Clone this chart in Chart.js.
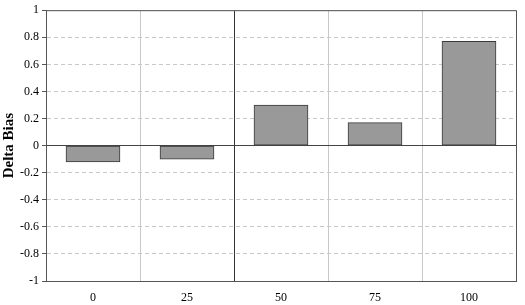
<!DOCTYPE html>
<html lang="en">
<head>
<meta charset="UTF-8">
<title>Delta Bias</title>
<script src="https://cdn.jsdelivr.net/npm/chart.js"></script>
<style>
    html, body { margin: 0; padding: 0; background: #fff; }
    #wrap { width: 525px; height: 305px; }
</style>
</head>
<body>
<div id="wrap"><canvas id="chart" width="525" height="305"></canvas></div>
<script>
    const categories = ['0', '25', '50', '75', '100'];
    const deltaBias = [-0.12, -0.10, 0.30, 0.17, 0.77];
    const yTicks = [-1, -0.8, -0.6, -0.4, -0.2, 0, 0.2, 0.4, 0.6, 0.8, 1];

    const serif = '"Liberation Serif", "Times New Roman", serif';

    // frame on top and right like the original plot box
    const frame = {
        id: 'frame',
        afterDatasetsDraw(chart) {
            const { ctx, chartArea: a } = chart;
            ctx.save();
            ctx.strokeStyle = '#555';
            ctx.lineWidth = 1;
            ctx.beginPath();
            ctx.moveTo(a.left, a.top + 0.5);
            ctx.lineTo(a.right + 0.5, a.top + 0.5);
            ctx.lineTo(a.right + 0.5, a.bottom);
            ctx.stroke();
            ctx.restore();
        }
    };

    new Chart(document.getElementById('chart'), {
        type: 'bar',
        data: {
            labels: categories,
            datasets: [{
                data: deltaBias,
                backgroundColor: '#999999',
                borderColor: '#3a3a3a',
                borderWidth: 1,
                borderSkipped: false,
                barThickness: 54
            }]
        },
        options: {
            responsive: false,
            animation: false,
            layout: { padding: { top: 9, right: 9, left: 0, bottom: 0 } },
            plugins: { legend: { display: false }, tooltip: { enabled: false } },
            scales: {
                x: {
                    grid: {
                        offset: true,
                        drawTicks: false,
                        color: c => c.index === 2 ? '#333' : '#c8c8c8'
                    },
                    border: { color: '#555', width: 1 },
                    ticks: { color: '#000', font: { family: serif, size: 12 }, padding: 10 },
                    afterFit: s => { s.height = 24; }
                },
                y: {
                    min: -1,
                    max: 1,
                    afterBuildTicks: s => { s.ticks = yTicks.map(v => ({ value: v })); },
                    grid: {
                        color: c => c.tick && c.tick.value === 0 ? '#444' : '#c8c8c8',
                        tickColor: '#555',
                        tickLength: 4
                    },
                    border: {
                        color: '#555',
                        width: 1,
                        dash: c => c.tick && c.tick.value !== 0 && c.tick.value !== 1 ? [4, 3] : []
                    },
                    ticks: {
                        color: '#000',
                        font: { family: serif, size: 12 },
                        padding: 3,
                        callback: v => String(Math.round(v * 10) / 10)
                    },
                    title: {
                        display: true,
                        text: 'Delta Bias',
                        color: '#000',
                        font: { family: serif, size: 15, weight: 'bold' },
                        padding: { top: 0, bottom: 1 }
                    },
                    afterFit: s => { s.width = 46; }
                }
            }
        },
        plugins: [frame]
    });
</script>
</body>
</html>
